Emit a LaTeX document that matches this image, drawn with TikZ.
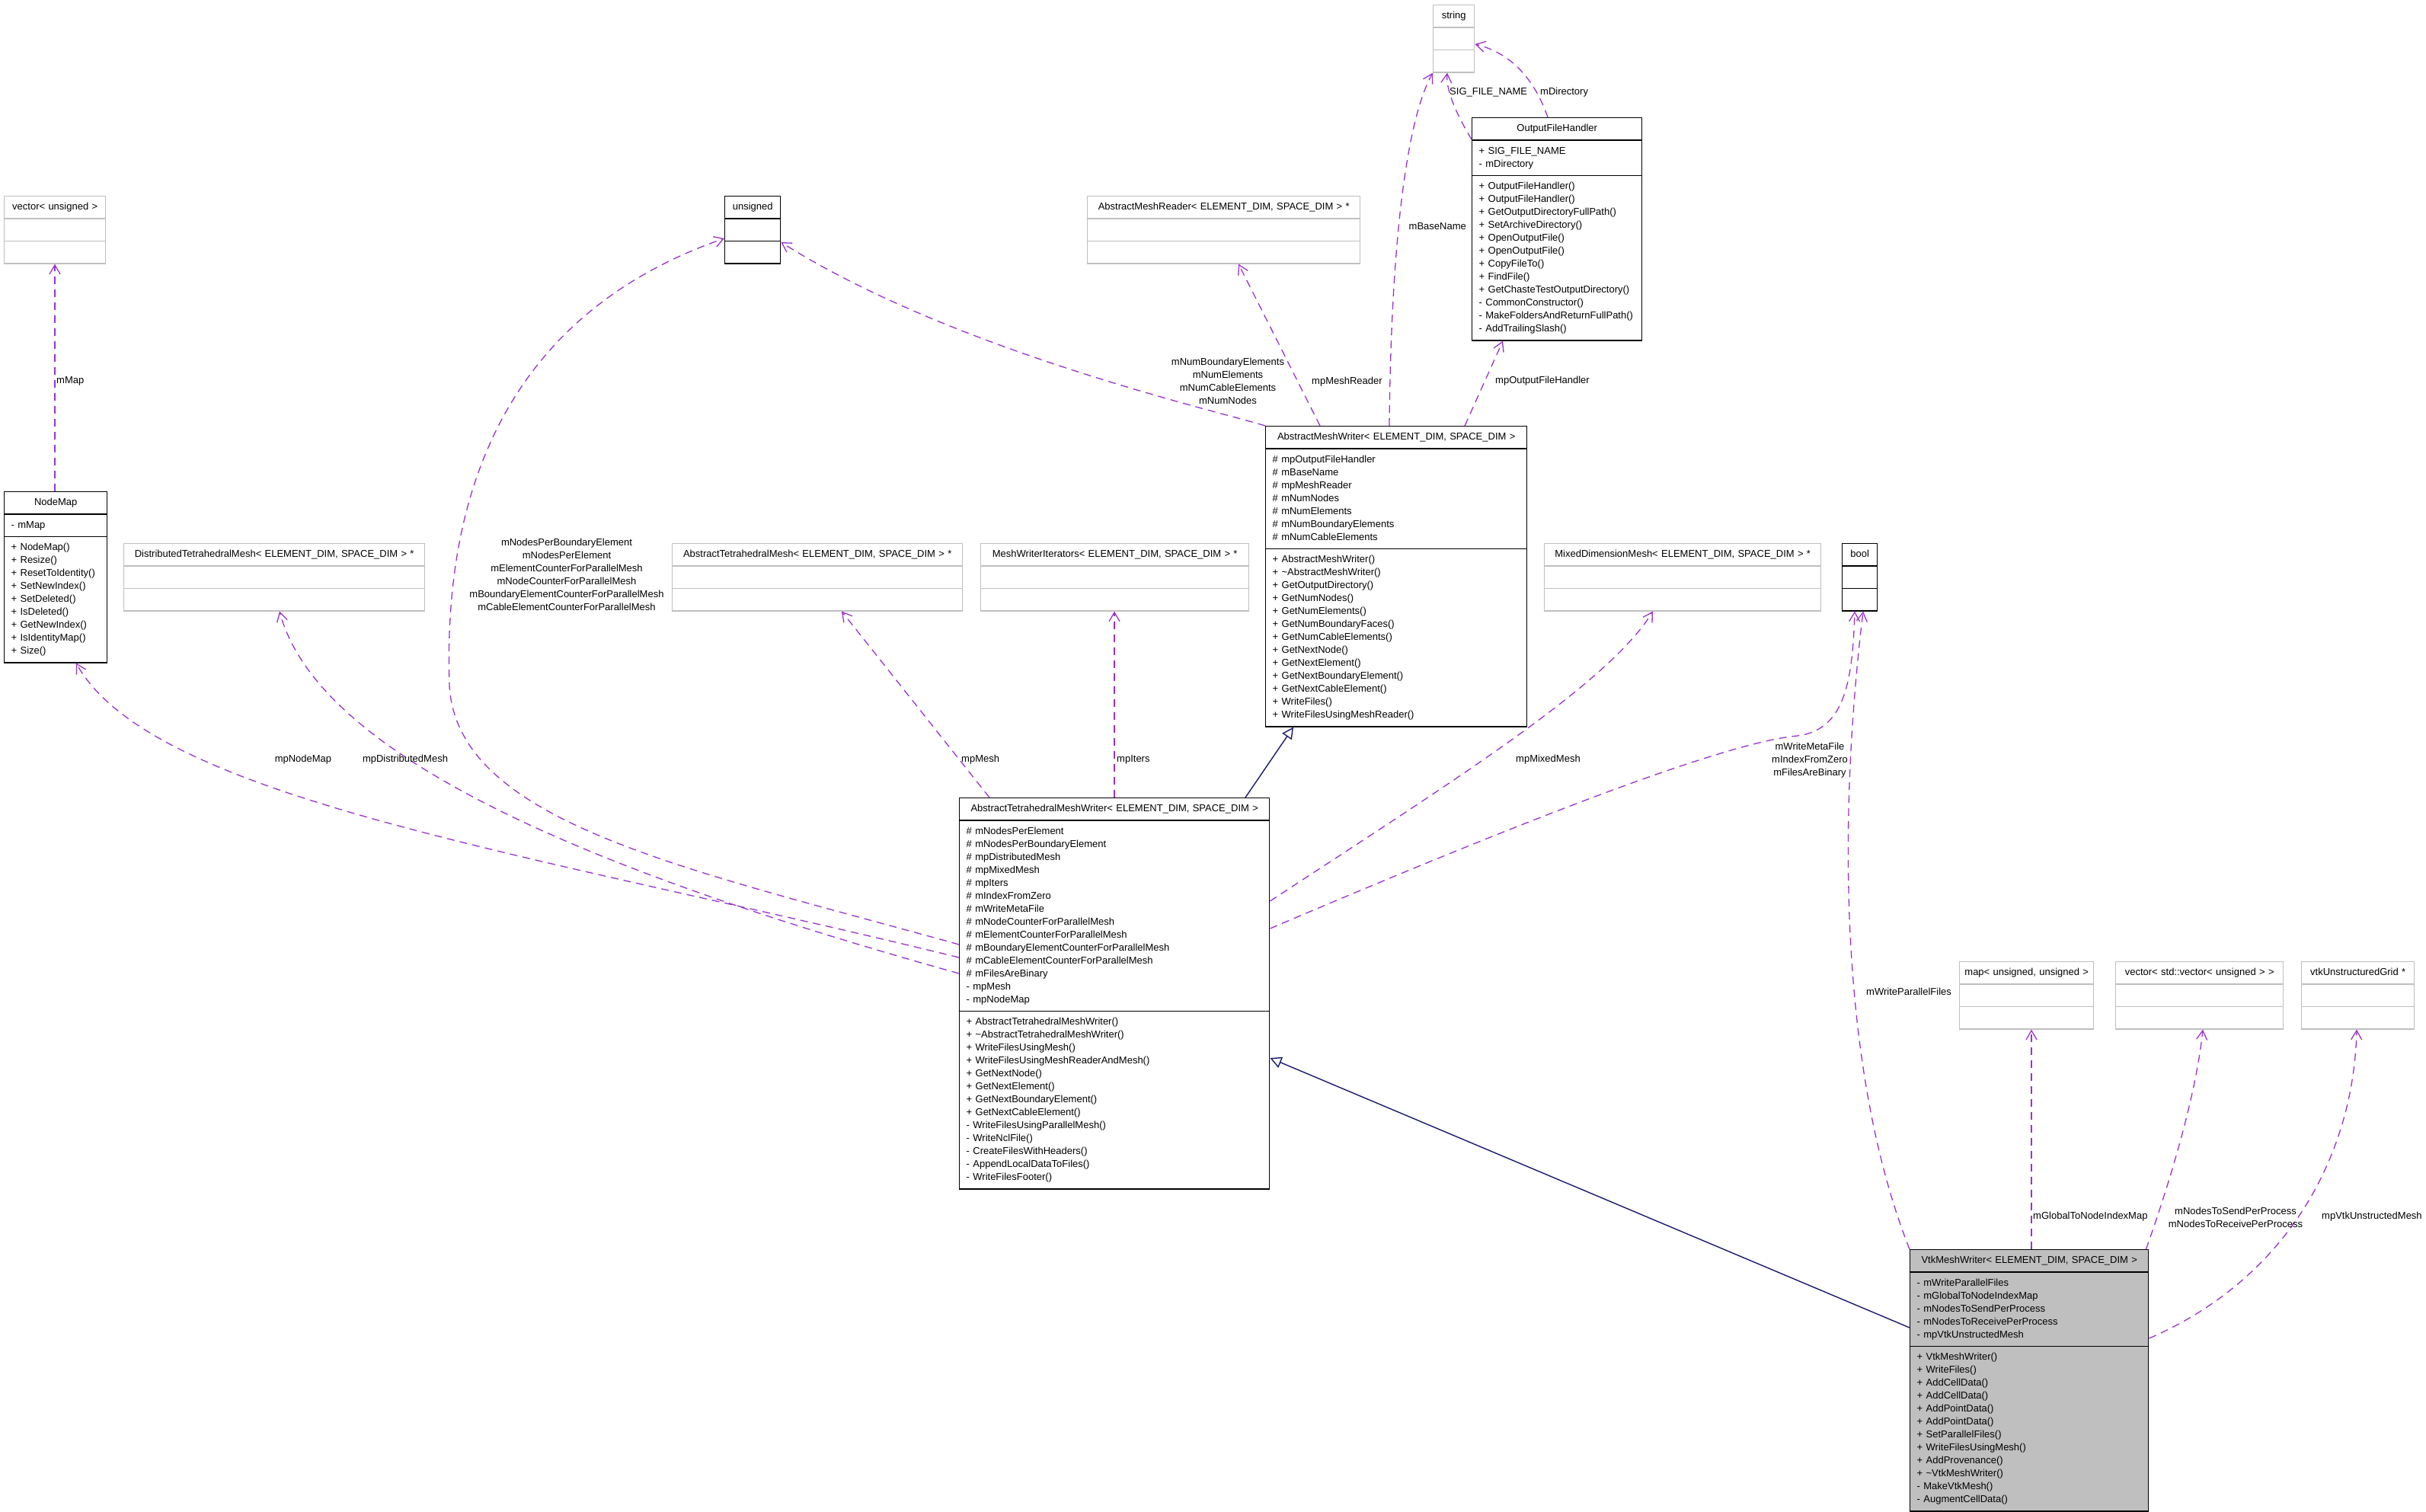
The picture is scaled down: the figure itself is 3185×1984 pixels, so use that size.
\documentclass[tikz,border=0pt]{standalone}
\usepackage{fontspec}
\setmainfont{Liberation Sans}
\usetikzlibrary{shapes.multipart,arrows.meta,calc}
\definecolor{edgepurple}{RGB}{154,50,205}
\definecolor{inhblue}{RGB}{25,25,112}
\definecolor{boxgray}{RGB}{191,191,191}
\newcommand{\hdr}[1]{\makebox[\linewidth]{#1\strut}}

\tikzset{
  cls/.style={rectangle split, rectangle split parts=3, draw=black, fill=white, line width=1.4pt,
    anchor=north west, inner xsep=9pt, inner ysep=5.5pt, align=left},
  ext/.style={cls, draw=boxgray, inner xsep=4pt},
  member/.style={draw=edgepurple, line width=1.3pt, dash pattern=on 10pt off 7pt,
    -{Straight Barb[length=12pt,width=14pt]}},
  inherit/.style={draw=inhblue, line width=1.4pt, -{Triangle[open,length=15pt,width=15pt,fill=white]}},
  lbl/.style={inner sep=0pt, align=center}
}

\begin{document}
\begin{tikzpicture}[x=1pt,y=-1pt,every node/.style={font=\fontsize{13}{17}\selectfont}]
\useasboundingbox (0,0) rectangle (3185,1984);
% Types used as members
\node[ext, text width=46pt] (str) at (1881,6) {\hdr{string} \nodepart{two}\strut \nodepart{three}\strut};
\node[ext, text width=125pt] (vecu) at (5,257) {\hdr{vector< unsigned >} \nodepart{two}\strut \nodepart{three}\strut};
\node[cls, text width=55pt] (uns) at (951,257) {\hdr{unsigned} \nodepart{two}\strut \nodepart{three}\strut};
\node[ext, text width=350pt] (amr) at (1427,257) {\hdr{AbstractMeshReader< ELEMENT\_DIM, SPACE\_DIM > *} \nodepart{two}\strut \nodepart{three}\strut};
\node[ext, text width=387pt] (dtm) at (162,713) {\hdr{DistributedTetrahedralMesh< ELEMENT\_DIM, SPACE\_DIM > *} \nodepart{two}\strut \nodepart{three}\strut};
\node[ext, text width=373pt] (atm) at (882,713) {\hdr{AbstractTetrahedralMesh< ELEMENT\_DIM, SPACE\_DIM > *} \nodepart{two}\strut \nodepart{three}\strut};
\node[ext, text width=344pt] (mwi) at (1287,713) {\hdr{MeshWriterIterators< ELEMENT\_DIM, SPACE\_DIM > *} \nodepart{two}\strut \nodepart{three}\strut};
\node[ext, text width=355pt] (mdm) at (2027,713) {\hdr{MixedDimensionMesh< ELEMENT\_DIM, SPACE\_DIM > *} \nodepart{two}\strut \nodepart{three}\strut};
\node[cls, text width=28pt] (bool) at (2418,713) {\hdr{bool} \nodepart{two}\strut \nodepart{three}\strut};
\node[ext, text width=168pt] (umap) at (2572,1262) {\hdr{map< unsigned, unsigned >} \nodepart{two}\strut \nodepart{three}\strut};
\node[ext, text width=212pt] (vecs) at (2777,1262) {\hdr{vector< std::vector< unsigned > >} \nodepart{two}\strut \nodepart{three}\strut};
\node[ext, text width=140pt] (vtkg) at (3021,1262) {\hdr{vtkUnstructuredGrid *} \nodepart{two}\strut \nodepart{three}\strut};
% Classes
\node[cls, text width=205pt] (ofh) at (1932,154) {\hdr{OutputFileHandler}
  \nodepart{two}\strut + SIG\_FILE\_NAME\\- mDirectory\strut
  \nodepart{three}\strut + OutputFileHandler()\\+ OutputFileHandler()\\+ GetOutputDirectoryFullPath()\\+ SetArchiveDirectory()\\+ OpenOutputFile()\\+ OpenOutputFile()\\+ CopyFileTo()\\+ FindFile()\\+ GetChasteTestOutputDirectory()\\- CommonConstructor()\\- MakeFoldersAndReturnFullPath()\\- AddTrailingSlash()\strut};
\node[cls, text width=117pt] (nmap) at (5,645) {\hdr{NodeMap}
  \nodepart{two}\strut - mMap\strut
  \nodepart{three}\strut + NodeMap()\\+ Resize()\\+ ResetToIdentity()\\+ SetNewIndex()\\+ SetDeleted()\\+ IsDeleted()\\+ GetNewIndex()\\+ IsIdentityMap()\\+ Size()\strut};
\node[cls, text width=325pt] (amw) at (1661,559) {\hdr{AbstractMeshWriter< ELEMENT\_DIM, SPACE\_DIM >}
  \nodepart{two}\strut \# mpOutputFileHandler\\\# mBaseName\\\# mpMeshReader\\\# mNumNodes\\\# mNumElements\\\# mNumBoundaryElements\\\# mNumCableElements\strut
  \nodepart{three}\strut + AbstractMeshWriter()\\+ \textasciitilde AbstractMeshWriter()\\+ GetOutputDirectory()\\+ GetNumNodes()\\+ GetNumElements()\\+ GetNumBoundaryFaces()\\+ GetNumCableElements()\\+ GetNextNode()\\+ GetNextElement()\\+ GetNextBoundaryElement()\\+ GetNextCableElement()\\+ WriteFiles()\\+ WriteFilesUsingMeshReader()\strut};
\node[cls, text width=389pt] (atmw) at (1259,1047) {\hdr{AbstractTetrahedralMeshWriter< ELEMENT\_DIM, SPACE\_DIM >}
  \nodepart{two}\strut \# mNodesPerElement\\\# mNodesPerBoundaryElement\\\# mpDistributedMesh\\\# mpMixedMesh\\\# mpIters\\\# mIndexFromZero\\\# mWriteMetaFile\\\# mNodeCounterForParallelMesh\\\# mElementCounterForParallelMesh\\\# mBoundaryElementCounterForParallelMesh\\\# mCableElementCounterForParallelMesh\\\# mFilesAreBinary\\- mpMesh\\- mpNodeMap\strut
  \nodepart{three}\strut + AbstractTetrahedralMeshWriter()\\+ \textasciitilde AbstractTetrahedralMeshWriter()\\+ WriteFilesUsingMesh()\\+ WriteFilesUsingMeshReaderAndMesh()\\+ GetNextNode()\\+ GetNextElement()\\+ GetNextBoundaryElement()\\+ GetNextCableElement()\\- WriteFilesUsingParallelMesh()\\- WriteNclFile()\\- CreateFilesWithHeaders()\\- AppendLocalDataToFiles()\\- WriteFilesFooter()\strut};
\node[cls, fill=boxgray, text width=295pt] (vtkmw) at (2507,1640) {\hdr{VtkMeshWriter< ELEMENT\_DIM, SPACE\_DIM >}
  \nodepart{two}\strut - mWriteParallelFiles\\- mGlobalToNodeIndexMap\\- mNodesToSendPerProcess\\- mNodesToReceivePerProcess\\- mpVtkUnstructedMesh\strut
  \nodepart{three}\strut + VtkMeshWriter()\\+ WriteFiles()\\+ AddCellData()\\+ AddCellData()\\+ AddPointData()\\+ AddPointData()\\+ SetParallelFiles()\\+ WriteFilesUsingMesh()\\+ AddProvenance()\\+ \textasciitilde VtkMeshWriter()\\- MakeVtkMesh()\\- AugmentCellData()\strut};
% OutputFileHandler and AbstractMeshWriter members
\draw[member] ($(ofh.north west)+(0,29)$) .. controls (1912,150) and (1898,118) .. ($(str.south west)+(19,0)$);
\draw[member] ($(ofh.north west)+(100,0)$) .. controls (2015,105) and (1985,70) .. ($(str.north east)+(0,52)$);
\draw[member] ($(amw.north west)+(163,0)$) .. controls (1826,330) and (1845,160) .. (str.south west);
\draw[member] ($(amw.north west)+(262,0)$) -- ($(ofh.south west)+(41,0)$);
\draw[member] ($(amw.north west)+(72,0)$) -- ($(amr.south west)+(199,0)$);
\draw[member] (amw.north west) .. controls (1600,540) and (1250,460) .. ($(uns.north east)+(0,61)$);
\node[lbl, anchor=west] (l1) at (1903,121) {SIG\_FILE\_NAME};
\node[lbl, anchor=west] (l2) at (2022,121) {mDirectory};
\node[lbl, anchor=east] (l3) at (1925,297) {mBaseName};
\node[lbl, anchor=west] (l4) at (1963,500) {mpOutputFileHandler};
\node[lbl, anchor=west] (l5) at (1722,501) {mpMeshReader};
\node[lbl] (l6) at (1612,500) {mNumBoundaryElements\\mNumElements\\mNumCableElements\\mNumNodes};
% Inheritance
\draw[inherit] ($(atmw.north west)+(376,0)$) -- ($(amw.south west)+(37,0)$);
\draw[inherit] ($(vtkmw.north west)+(0,103)$) -- ($(atmw.north east)+(0,342)$);
% AbstractTetrahedralMeshWriter members
\draw[member] ($(atmw.north west)+(40,0)$) -- ($(atm.south west)+(223,0)$);
\draw[member] ($(atmw.north west)+(204,0)$) -- ($(mwi.south west)+(176,0)$);
\draw[member] ($(atmw.north east)+(0,136)$) .. controls (1900,1030) and (2110,900) .. ($(mdm.south west)+(143,0)$);
\draw[member] ($(atmw.north east)+(0,172)$) .. controls (1900,1120) and (2250,975) .. (2360,966) .. controls (2420,958) and (2432,900) .. ($(bool.south west)+(17,0)$);
\draw[member] ($(atmw.north west)+(0,193)$) .. controls (900,1140) and (600,1080) .. (590,900) .. controls (580,600) and (700,400) .. ($(uns.north west)+(0,56)$);
\draw[member] ($(atmw.north west)+(0,210)$) .. controls (700,1120) and (200,1050) .. ($(nmap.south west)+(95,0)$);
\draw[member] ($(atmw.north west)+(0,231)$) .. controls (800,1150) and (420,1000) .. ($(dtm.south west)+(205,0)$);
\node[lbl, anchor=west] (l7) at (1262,997) {mpMesh};
\node[lbl, anchor=west] (l8) at (1466,997) {mpIters};
\node[lbl, anchor=west] (l9) at (1990,997) {mpMixedMesh};
\node[lbl] (l10) at (2376,998) {mWriteMetaFile\\mIndexFromZero\\mFilesAreBinary};
\node[lbl] (l11) at (744,754) {mNodesPerBoundaryElement\\mNodesPerElement\\mElementCounterForParallelMesh\\mNodeCounterForParallelMesh\\mBoundaryElementCounterForParallelMesh\\mCableElementCounterForParallelMesh};
\node[lbl] (l12) at (398,997) {mpNodeMap};
\node[lbl] (l13) at (532,997) {mpDistributedMesh};
% NodeMap member
\draw[member] ($(nmap.north west)+(67,0)$) -- ($(vecu.south west)+(67,0)$);
\node[lbl, anchor=west] (l14) at (74,500) {mMap};
% VtkMeshWriter members
\draw[member] (vtkmw.north west) .. controls (2420,1420) and (2410,1100) .. ($(bool.south west)+(28,0)$);
\draw[member] ($(vtkmw.north west)+(160,0)$) -- ($(umap.south west)+(95,0)$);
\draw[member] ($(vtkmw.north east)+(-4,0)$) .. controls (2860,1520) and (2885,1420) .. ($(vecs.south west)+(115,0)$);
\draw[member] ($(vtkmw.north east)+(0,117)$) .. controls (3000,1680) and (3090,1520) .. ($(vtkg.south west)+(73,0)$);
\node[lbl, anchor=west] (l15) at (2450,1302) {mWriteParallelFiles};
\node[lbl, anchor=west] (l16) at (2669,1597) {mGlobalToNodeIndexMap};
\node[lbl] (l17) at (2935,1598) {mNodesToSendPerProcess\\mNodesToReceivePerProcess};
\node[lbl, anchor=west] (l18) at (3048,1597) {mpVtkUnstructedMesh};
\end{tikzpicture}
\end{document}
